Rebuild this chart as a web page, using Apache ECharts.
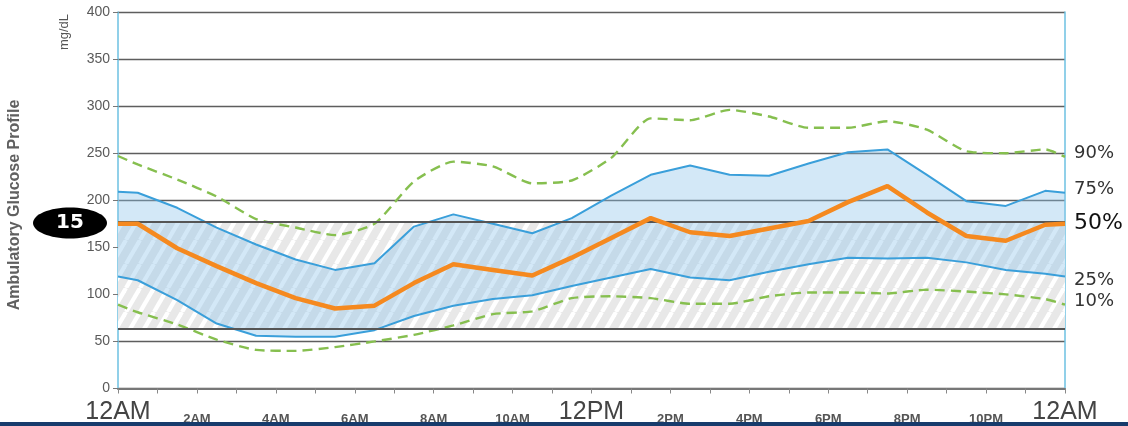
<!DOCTYPE html>
<html>
<head>
<meta charset="utf-8">
<script src="https://cdn.jsdelivr.net/npm/echarts@6/dist/echarts.min.js"></script>
<style>
  html, body { margin: 0; padding: 0; background: #fff; }
  #chart { width: 1128px; height: 426px; }
</style>
</head>
<body>
<div id="chart"></div>
<script>
// Hours of the day where the profile is sampled (0 = midnight, 24 = next midnight)
const hours = [0, 0.5, 1.5, 2.5, 3.5, 4.5, 5.5, 6.5, 7.5, 8.5, 9.5, 10.5, 11.5,
               12.5, 13.5, 14.5, 15.5, 16.5, 17.5, 18.5, 19.5, 20.5, 21.5, 22.5, 23.5, 24];

// Percentile curves, mg/dL
const p90 = [247, 238, 222, 204, 180, 171, 163, 175, 220, 241, 236, 218, 221,
             245, 287, 285, 296, 289, 277, 277, 284, 275, 252, 250, 254, 246];
const p75 = [209, 208, 192, 171, 153, 137, 126, 133, 172, 185, 175, 165, 181,
             205, 227, 237, 227, 226, 239, 251, 254, 227, 199, 194, 210, 208];
const p50 = [175, 175, 149, 130, 112, 96, 85, 88, 112, 132, 126, 120, 139,
             160, 181, 166, 162, 170, 178, 198, 215, 187, 162, 157, 174, 175];
const p25 = [119, 115, 94, 69, 56, 55, 55, 62, 77, 88, 95, 99, 109,
             118, 127, 118, 115, 124, 132, 139, 138, 139, 134, 126, 122, 119];
const p10 = [89, 81, 68, 52, 41, 40, 44, 50, 57, 67, 79, 82, 96,
             98, 96, 90, 90, 98, 102, 102, 101, 105, 103, 100, 95, 89];

// Target glucose range (mg/dL)
const targetRange = [64, 177];

// Time-of-day labels on even hours
const timeLabels = {
  0: '12AM', 2: '2AM', 4: '4AM', 6: '6AM', 8: '8AM', 10: '10AM',
  12: '12PM', 14: '2PM', 16: '4PM', 18: '6PM', 20: '8PM', 22: '10PM', 24: '12AM'
};
const bigLabelHours = [0, 12, 24];

// Y-axis range
const yMin = 0, yMax = 400, yStep = 50;

const pair = (arr) => hours.map((h, i) => [h, arr[i]]);

// Hatched pattern for the target band
function makeHatch() {
  const w = 14, h = 24;
  const c = document.createElement('canvas');
  c.width = w; c.height = h;
  const ctx = c.getContext('2d');
  ctx.fillStyle = '#e8e8e8';
  ctx.fillRect(0, 0, w, h);
  ctx.strokeStyle = '#ffffff';
  ctx.lineWidth = 4.2;
  for (let k = -1; k <= 1; k++) {
    ctx.beginPath();
    ctx.moveTo(k * w, h);
    ctx.lineTo(k * w + w, 0);
    ctx.stroke();
  }
  return c;
}

const blue = '#3a9fda';
const orange = '#f5891f';
const green = '#86bf4f';
const labelFont = 'DejaVu Sans';

const chart = echarts.init(document.getElementById('chart'), null, { renderer: 'canvas' });

const endLbl = (name, dy, size, color) => ({
  show: true,
  formatter: name,
  distance: 9,
  offset: [0, dy],
  fontFamily: labelFont,
  fontSize: size,
  color: color
});

// Interquartile band: polygon along the 75th curve and back along the 25th
function renderIqr(params, api) {
  const upper = hours.map((h, i) => api.coord([h, p75[i]]));
  const lower = hours.map((h, i) => api.coord([h, p25[i]])).reverse();
  return {
    type: 'polygon',
    shape: { points: upper.concat(lower) },
    style: { fill: 'rgba(140,195,235,0.38)' },
    silent: true
  };
}

chart.setOption({
  animation: false,
  grid: { left: 118, right: 63, top: 12, bottom: 37, containLabel: false },
  xAxis: {
    type: 'value',
    min: 0, max: 24, interval: 1,
    axisLine: { show: true, lineStyle: { color: '#777', width: 2 } },
    axisTick: { show: true, length: 5, lineStyle: { color: '#888', width: 1 } },
    splitLine: { show: false },
    axisLabel: {
      margin: 11,
      showMinLabel: true, showMaxLabel: true,
      hideOverlap: false,
      formatter: (v) => {
        const t = timeLabels[v];
        if (!t) return '';
        return bigLabelHours.indexOf(v) >= 0 ? '{b|' + t + '}' : '{s|' + t + '}';
      },
      rich: {
        b: { fontFamily: 'Liberation Sans', fontSize: 25, color: '#444', lineHeight: 26 },
        s: { fontFamily: 'Liberation Sans', fontSize: 13, fontWeight: 'bold', color: '#555',
             lineHeight: 14, padding: [26, 0, 0, 0] }
      }
    }
  },
  yAxis: [{
    type: 'value',
    min: yMin, max: yMax, interval: yStep,
    axisLine: { show: true, lineStyle: { color: '#6cc0e2', width: 1.5 } },
    axisTick: { show: true, length: 5, lineStyle: { color: '#777' } },
    splitLine: { show: true, lineStyle: { color: '#5e5e5e', width: 1.3 } },
    axisLabel: { margin: 8, fontFamily: 'Liberation Sans', fontSize: 14, color: '#5a5a5a' }
  }, {
    type: 'value',
    position: 'right',
    min: yMin, max: yMax, interval: yStep,
    axisLine: { show: true, lineStyle: { color: '#6cc0e2', width: 1.5 } },
    axisTick: { show: false },
    axisLabel: { show: false },
    splitLine: { show: false }
  }],
  series: [
    {
      // target range band
      type: 'line',
      data: [],
      silent: true,
      markArea: {
        silent: true,
        itemStyle: { color: { image: makeHatch(), repeat: 'repeat' } },
        data: [[{ yAxis: targetRange[0] }, { yAxis: targetRange[1] }]]
      },
      markLine: {
        silent: true,
        symbol: 'none',
        label: { show: false },
        lineStyle: { color: '#555', width: 2, type: 'solid' },
        data: [{ yAxis: targetRange[0] }, { yAxis: targetRange[1] }]
      },
      z: 1
    },
    {
      type: 'custom',
      data: [[0, 0]],
      encode: { x: 0, y: 1 },
      renderItem: renderIqr,
      silent: true,
      z: 2
    },
    {
      name: '10%', type: 'line', data: pair(p10), symbol: 'none', smooth: 0.2,
      lineStyle: { color: green, width: 2.4, type: [10, 6] },
      endLabel: endLbl('10%', -3, 18, '#333'), z: 3
    },
    {
      name: '90%', type: 'line', data: pair(p90), symbol: 'none', smooth: 0.2,
      lineStyle: { color: green, width: 2.4, type: [10, 6] },
      endLabel: endLbl('90%', -4, 18, '#333'), z: 3
    },
    {
      name: '25%', type: 'line', data: pair(p25), symbol: 'none',
      lineStyle: { color: blue, width: 2 },
      endLabel: endLbl('25%', 4, 18, '#333'), z: 4
    },
    {
      name: '75%', type: 'line', data: pair(p75), symbol: 'none',
      lineStyle: { color: blue, width: 2 },
      endLabel: endLbl('75%', -3, 18, '#333'), z: 4
    },
    {
      name: '50%', type: 'line', data: pair(p50), symbol: 'none',
      lineStyle: { color: orange, width: 4.5 },
      endLabel: endLbl('50%', -1, 22, '#111'), z: 5
    }
  ],
  graphic: [
    {
      type: 'text', x: 15, y: 205, rotation: Math.PI / 2,
      style: { text: 'Ambulatory Glucose Profile', fontFamily: 'Liberation Sans', fontSize: 16,
               fontWeight: 'bold', fill: '#606060', align: 'center', verticalAlign: 'middle' }
    },
    {
      type: 'text', x: 64, y: 32, rotation: Math.PI / 2,
      style: { text: 'mg/dL', fontFamily: 'Liberation Sans', fontSize: 13,
               fill: '#555', align: 'center', verticalAlign: 'middle' }
    },
    {
      type: 'ellipse', shape: { cx: 70, cy: 223, rx: 37, ry: 15.5 },
      style: { fill: '#000' }, z: 10
    },
    {
      type: 'text', x: 70, y: 223, z: 11,
      style: { text: '15', fontFamily: 'DejaVu Sans', fontSize: 20, fontWeight: 'bold',
               fill: '#fff', align: 'center', verticalAlign: 'middle' }
    },
    {
      type: 'rect', shape: { x: 0, y: 422, width: 1128, height: 4 },
      style: { fill: '#173b6c' }, z: 20
    }
  ]
});
</script>
</body>
</html>
